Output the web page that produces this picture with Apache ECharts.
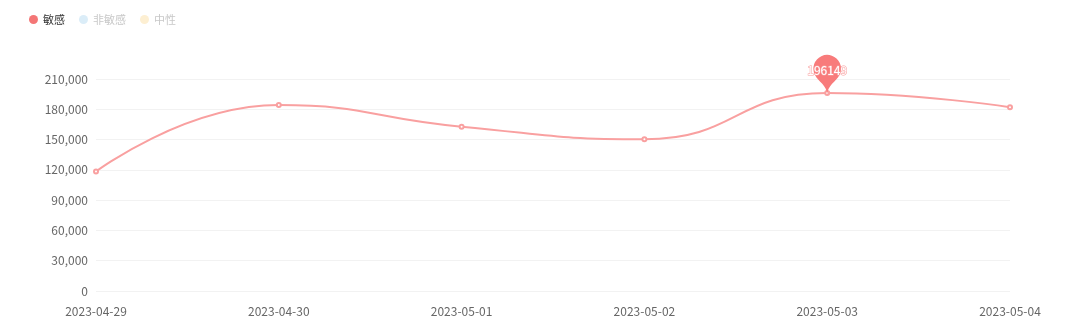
<!DOCTYPE html>
<html>
<head>
<meta charset="utf-8">
<script src="https://cdn.jsdelivr.net/npm/echarts@6/dist/echarts.min.js"></script>
<style>
html,body{margin:0;padding:0;background:#fff;}
#chart{width:1080px;height:331px;}
</style>
</head>
<body>
<div id="chart"></div>
<script>
const categories = ['2023-04-29','2023-04-30','2023-05-01','2023-05-02','2023-05-03','2023-05-04'];
const sensitiveValues = [118300, 184200, 162800, 150300, 196149, 182000];
const nonSensitiveValues = [];
const neutralValues = [];
const seriesNames = ['敏感','非敏感','中性'];

const font = '"Noto Sans CJK SC", "Noto Sans", sans-serif';
const chart = echarts.init(document.getElementById('chart'));
chart.setOption({
  animation: false,
  textStyle: { fontFamily: font },
  legend: {
    left: 24, top: 9,
    icon: 'circle', itemWidth: 9, itemHeight: 9, itemGap: 14,
    textStyle: { fontSize: 11, color: '#333', fontFamily: font },
    data: [
      { name: seriesNames[0], itemStyle: { color: '#f47676' } },
      { name: seriesNames[1], itemStyle: { color: '#dbedf8' }, textStyle: { color: '#c8c8c8' } },
      { name: seriesNames[2], itemStyle: { color: '#fdefd2' }, textStyle: { color: '#c8c8c8' } }
    ]
  },
  grid: { left: 96, right: 70, top: 79, bottom: 40 },
  xAxis: {
    type: 'category', boundaryGap: false, data: categories,
    axisLine: { show: false }, axisTick: { show: false },
    axisLabel: { color: '#666', fontSize: 12, margin: 14, fontFamily: font }
  },
  yAxis: {
    type: 'value', min: 0, max: 210000, interval: 30000,
    axisLine: { show: false }, axisTick: { show: false },
    axisLabel: { color: '#666', fontSize: 12, margin: 8, fontFamily: font,
      formatter: v => v.toLocaleString('en-US') },
    splitLine: { lineStyle: { color: '#f2f2f2' } }
  },
  series: [
    {
      name: seriesNames[0], type: 'line', data: sensitiveValues, smooth: true,
      symbol: 'emptyCircle', symbolSize: 4,
      itemStyle: { color: '#f9a0a0' },
      lineStyle: { color: '#f9a0a0', width: 2 },
      markPoint: {
        symbol: 'pin', symbolSize: 46, symbolOffset: [0, 2],
        itemStyle: { color: '#f87b7b' },
        label: { color: '#fff', fontSize: 12, fontFamily: font, textBorderColor: '#f9a0a0', textBorderWidth: 1 },
        data: [{ type: 'max', name: 'max' }]
      }
    },
    { name: seriesNames[1], type: 'line', data: nonSensitiveValues, itemStyle: { color: '#dbedf8' } },
    { name: seriesNames[2], type: 'line', data: neutralValues, itemStyle: { color: '#fdefd2' } }
  ]
});
</script>
</body>
</html>
